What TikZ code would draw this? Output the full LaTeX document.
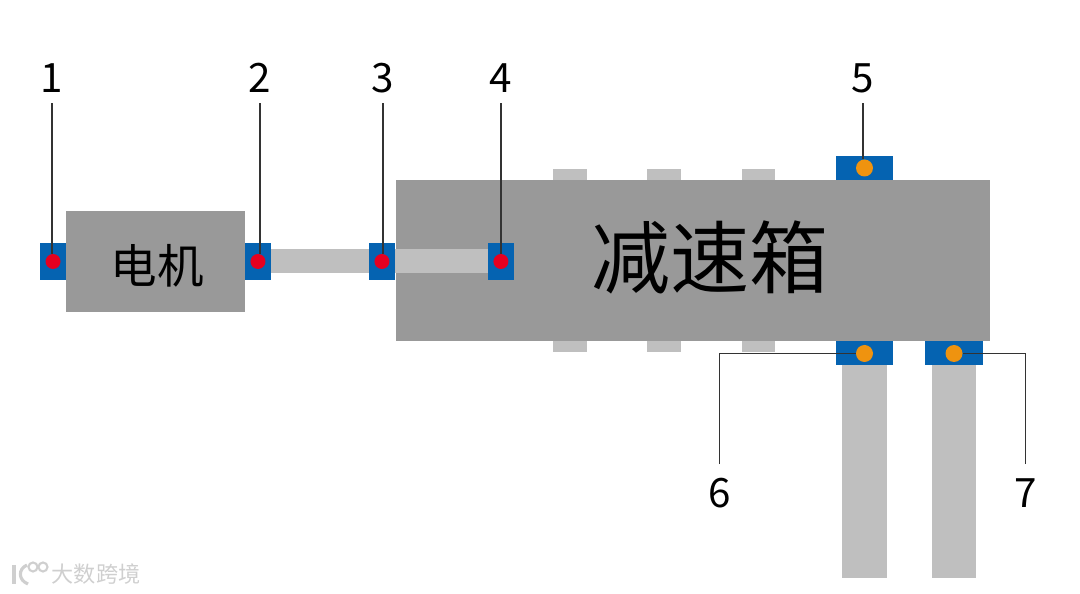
\documentclass[tikz,border=0pt]{standalone}
\usepackage{fontspec}
\usepackage{xcolor}
\usetikzlibrary{positioning}
\setmainfont{Noto Sans CJK SC}
\definecolor{housegray}{HTML}{999999}
\definecolor{shaftgray}{HTML}{BFBFBF}
\definecolor{bearblue}{HTML}{0563B1}
\definecolor{dotred}{HTML}{E60020}
\definecolor{dotorange}{HTML}{EF930F}
\definecolor{leadgray}{HTML}{333333}
\definecolor{markgray}{HTML}{CFCFCF}

\begin{document}
\begin{tikzpicture}[x=0.02cm, y=-0.02cm, node distance=0pt,
    solid/.style={rectangle, inner sep=0pt, outer sep=0pt},
    house/.style={solid, fill=housegray, text=black},
    shaft/.style={solid, fill=shaftgray},
    bearing/.style={solid, fill=bearblue, minimum width=0.52cm, minimum height=0.74cm},
    widebearing/.style={solid, fill=bearblue, minimum width=1.16cm, minimum height=0.48cm},
    reddot/.style={circle, fill=dotred, inner sep=0pt, outer sep=0pt, minimum size=0.3cm},
    orangedot/.style={circle, fill=dotorange, inner sep=0pt, outer sep=0pt, minimum size=0.34cm},
    stub/.style={solid, fill=shaftgray, minimum width=0.67cm, minimum height=0.23cm},
    num/.style={font=\fontsize{23}{23}\selectfont, text height=0.6cm, text depth=0pt, inner xsep=0pt, inner ysep=0.2cm},
    leader/.style={draw=leadgray, line width=0.65pt}]
    \useasboundingbox (0,0) rectangle (1080,594);

    % housings
    \node (gearbox) [house, minimum width=11.89cm, minimum height=3.22cm] at (693,260.5) {};
    \node (gearname) [inner sep=0pt, font=\fontsize{45}{45}\selectfont] at (710,257) {减速箱};
    \node (motor) [house, minimum width=3.58cm, minimum height=2.02cm] at (155.5,261.5) {};
    \node (motorname) [inner sep=0pt, font=\fontsize{26.5}{27}\selectfont] at (157.5,266) {电机};

    % stubs on the gearbox
    \foreach \sx/\sn in {570/a, 664/b, 758.5/c} {
        \node (top\sn) [stub] at (\sx,174.5) {};
        \node (bot\sn) [stub] at (\sx,346.5) {};
    }

    % input side
    \node (bear1) [bearing, left=of motor] {};
    \node (bear2) [bearing, right=of motor] {};
    \node (inshaft) [shaft, minimum width=1.96cm, minimum height=0.48cm, right=of bear2] {};
    \node (bear3) [bearing, right=of inshaft] {};
    \node (inner) [shaft, minimum width=1.86cm, minimum height=0.48cm, right=of bear3] {};
    \node (bear4) [bearing, right=of inner] {};

    % output side
    \node (bear5) [widebearing] at (864.5,168) {};
    \node (bear6) [widebearing] at (864.5,353.5) {};
    \node (bear7) [widebearing] at (954,353.5) {};
    \node (out6) [shaft, minimum width=0.89cm, minimum height=4.26cm, below=of bear6] {};
    \node (out7) [shaft, minimum width=0.89cm, minimum height=4.26cm, below=of bear7] {};

    % labels
    \node (num1) [num] at (52,78) {1};
    \node (num2) [num] at (260,78) {2};
    \node (num3) [num] at (383,78) {3};
    \node (num4) [num] at (501,78) {4};
    \node (num5) [num] at (863,78) {5};
    \node (num6) [num] at (719.5,492.5) {6};
    \node (num7) [num] at (1025.5,492.5) {7};

    % dots
    \node (dot1) [reddot] at (bear1) {};
    \node (dot2) [reddot] at (bear2) {};
    \node (dot3) [reddot] at (bear3) {};
    \node (dot4) [reddot] at (bear4) {};
    \node (dot5) [orangedot] at (bear5) {};
    \node (dot6) [orangedot] at (bear6) {};
    \node (dot7) [orangedot] at (bear7) {};

    % leaders
    \draw [leader] (num1.south) -- (num1.south |- dot1.north);
    \draw [leader] (num2.south) -- (num2.south |- dot2.north);
    \draw [leader] (num3.south) -- (num3.south |- dot3.north);
    \draw [leader] (num4.south) -- (num4.south |- dot4.north);
    \draw [leader] (num5.south) -- (num5.south |- dot5.north);
    \draw [leader, shorten <=0.06cm] (num6.north) |- (dot6.west);
    \draw [leader, shorten <=0.06cm] (num7.north) |- (dot7.east);

    % corner mark
    \node (marktext) [text=markgray, inner sep=0pt, font=\fontsize{12.6}{13}\selectfont] at (96,574) {大数跨境};
    \draw [draw=markgray, line width=1.8pt] (14,565) -- (14,584);
    \draw [draw=markgray, line width=1.8pt] (27,565) .. controls (18,569) and (18,580) .. (28,584);
    \node (marko) [circle, draw=markgray, line width=1.2pt, inner sep=0pt, minimum size=0.18cm] at (33,567) {};
    \node (markp) [circle, draw=markgray, line width=1.2pt, inner sep=0pt, minimum size=0.18cm] at (43,567) {};
\end{tikzpicture}
\end{document}
